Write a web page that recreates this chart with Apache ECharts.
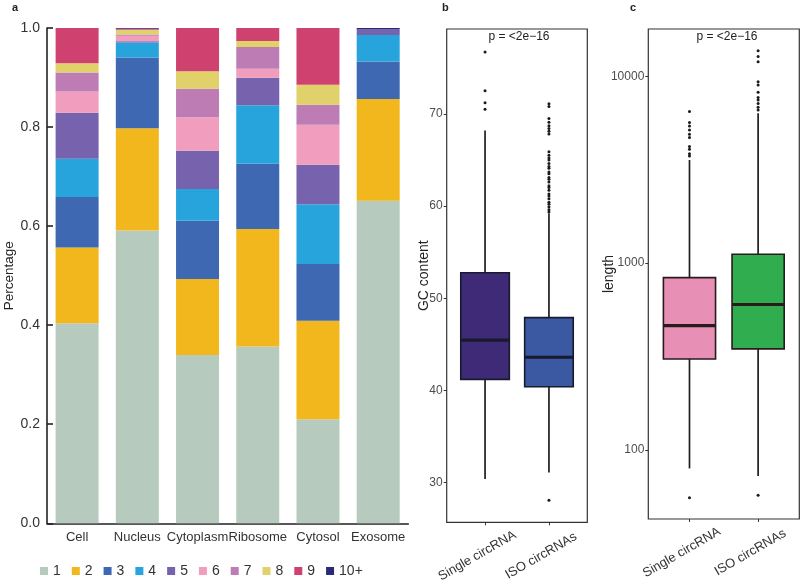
<!DOCTYPE html>
<html>
<head>
<meta charset="utf-8">
<script src="https://cdn.jsdelivr.net/npm/echarts@6/dist/echarts.min.js"></script>
<style>html,body{margin:0;padding:0;background:#fff}#c{width:800px;height:587px}</style>
</head>
<body>
<div id="c"></div>
<script>
// ---------- Panel a: stacked composition ----------
const categories = ['Cell', 'Nucleus', 'Cytoplasm', 'Ribosome', 'Cytosol', 'Exosome'];
const classNames = ['1', '2', '3', '4', '5', '6', '7', '8', '9', '10+'];
const class1  = [0.404, 0.591, 0.340, 0.357, 0.210, 0.651];
const class2  = [0.153, 0.2065, 0.153, 0.237, 0.1987, 0.2056];
const class3  = [0.102, 0.143, 0.118, 0.132, 0.115, 0.076];
const class4  = [0.077, 0.0303, 0.064, 0.118, 0.1206, 0.0534];
const class5  = [0.093, 0.0027, 0.0774, 0.0556, 0.0794, 0.011];
const class6  = [0.043, 0.0108, 0.0673, 0.018, 0.0808, 0];
const class7  = [0.038, 0.0027, 0.0574, 0.044, 0.0404, 0];
const class8  = [0.019, 0.0094, 0.0355, 0.012, 0.0405, 0];
const class9  = [0.0715, 0.002, 0.0877, 0.027, 0.1145, 0];
const class10 = [0, 0.002, 0, 0, 0, 0.003];

// ---------- Panel b: GC content ----------
const groups = ['Single circRNA', 'ISO circRNAs'];
// [lower whisker, Q1, median, Q3, upper whisker]
const gcSingle = [30.4, 41.2, 45.45, 52.77, 68.2];
const gcIso    = [31.1, 40.4, 43.6, 47.9, 59.2];
const gcSingleOutliers = [76.7, 72.5, 71.2, 70.5];
const gcIsoOutliers = [28.1, 71.1, 70.8, 69.5, 69.1, 68.7, 68.4, 68.1, 67.8, 65.9, 65.5, 65.2, 65.0, 64.6, 64.3, 64.1,
  63.7, 63.5, 63.1, 62.9, 62.6, 62.2, 62.0, 61.7, 61.3, 61.1, 60.8, 60.4, 60.2, 59.9, 59.6, 59.35];
const gcTicks = [30, 40, 50, 60, 70];

// ---------- Panel c: length ----------
const lenSingle = [79.8, 307, 463, 837, 3565];
const lenIso    = [72.6, 348, 601, 1117, 6340];
const lenSingleOutliers = [55.6, 3750, 3845, 4075, 4205, 4700, 4900, 5160, 5420, 5650, 6470];
const lenIsoOutliers = [57.4, 6600, 6820, 7160, 7460, 7710, 8200, 8980, 9360, 11970, 12740, 13700];
const lenTicks = [100, 1000, 10000];

const classColors = ['#b6cbbd', '#f1b71c', '#3e68b1', '#28a4dd', '#7762ad', '#f19dbd', '#bd7cb4', '#e0d16a', '#cf4270', '#2b2a7a'];
const FONT = "'Liberation Sans', Arial, sans-serif";
const classData = [class1, class2, class3, class4, class5, class6, class7, class8, class9, class10];

const BOX_W = 0.76;
function boxRenderer(fills, stroke) {
  return function (params, api) {
    const x = api.value(0);
    const lo = api.value(1), q1 = api.value(2), med = api.value(3), q3 = api.value(4), hi = api.value(5);
    const tl = api.coord([x - BOX_W / 2, q3]);
    const br = api.coord([x + BOX_W / 2, q1]);
    const m1 = api.coord([x - BOX_W / 2, med]);
    const m2 = api.coord([x + BOX_W / 2, med]);
    const pLo = api.coord([x, lo]), pQ1 = api.coord([x, q1]), pQ3 = api.coord([x, q3]), pHi = api.coord([x, hi]);
    return {
      type: 'group',
      children: [
        { type: 'line', shape: { x1: pHi[0], y1: pHi[1], x2: pQ3[0], y2: pQ3[1] }, style: { stroke: '#1e1e1e', lineWidth: 1.7 } },
        { type: 'line', shape: { x1: pLo[0], y1: pLo[1], x2: pQ1[0], y2: pQ1[1] }, style: { stroke: '#1e1e1e', lineWidth: 1.7 } },
        { type: 'rect', shape: { x: tl[0], y: tl[1], width: br[0] - tl[0], height: br[1] - tl[1] },
          style: { fill: fills[params.dataIndex], stroke: stroke, lineWidth: 1.6 } },
        { type: 'line', shape: { x1: m1[0], y1: m1[1], x2: m2[0], y2: m2[1] }, style: { stroke: stroke, lineWidth: 3.2 } }
      ]
    };
  };
}
function boxData(a, b) { return [[1].concat(a), [2].concat(b)]; }
function outlierData(a, b) { return a.map(v => [1, v]).concat(b.map(v => [2, v])); }

const chart = echarts.init(document.getElementById('c'), null, { renderer: 'canvas' });

const barSeries = classNames.map((name, i) => ({
  name: name, type: 'bar', stack: 'total', xAxisIndex: 0, yAxisIndex: 0,
  barWidth: 43, data: classData[i], itemStyle: { color: classColors[i] }
}));

const smallAxisLabel = { color: '#4d4d4d', fontSize: 12, fontFamily: FONT };

const option = {
  animation: false,
  textStyle: { fontFamily: FONT },
  grid: [
    { left: 47, top: 28, width: 361.3, height: 495.3 },
    { left: 446.7, top: 29, width: 140.6, height: 493.3, show: true, borderColor: '#333', borderWidth: 1.2, backgroundColor: 'transparent' },
    { left: 648.3, top: 29, width: 151, height: 490, show: true, borderColor: '#333', borderWidth: 1.2, backgroundColor: 'transparent' }
  ],
  legend: {
    data: classNames, left: 35, top: 559, icon: 'rect', itemWidth: 8, itemHeight: 8, itemGap: 11,
    textStyle: { fontSize: 14, color: '#333', fontFamily: FONT }
  },
  xAxis: [
    { gridIndex: 0, type: 'category', data: categories, boundaryGap: true,
      axisLine: { lineStyle: { color: '#222', width: 1.6 } },
      axisTick: { inside: true, length: 12, lineStyle: { color: '#222', width: 1.6 } },
      axisLabel: { fontSize: 13, color: '#333', margin: 8, interval: 0, fontFamily: FONT } },
    { gridIndex: 1, type: 'value', min: 0.4, max: 2.6, splitLine: { show: false },
      axisLine: { show: false },
      axisTick: { length: 3, customValues: [1, 2], lineStyle: { color: '#333' } },
      axisLabel: { customValues: [1, 2], formatter: v => groups[Math.round(v) - 1], rotate: 30, align: 'center', verticalAlign: 'middle',
        margin: 29, padding: [0, 18, 0, 0], fontSize: 13, color: '#333', fontFamily: FONT } },
    { gridIndex: 2, type: 'value', min: 0.4, max: 2.6, splitLine: { show: false },
      axisLine: { show: false },
      axisTick: { length: 3, customValues: [1, 2], lineStyle: { color: '#333' } },
      axisLabel: { customValues: [1, 2], formatter: v => groups[Math.round(v) - 1], rotate: 30, align: 'center', verticalAlign: 'middle',
        margin: 29, padding: [0, 18, 0, 0], fontSize: 13, color: '#333', fontFamily: FONT } }
  ],
  yAxis: [
    { gridIndex: 0, type: 'value', min: 0, max: 1, interval: 0.2,
      name: 'Percentage', nameLocation: 'middle', nameGap: 31, nameRotate: 90, nameMoveOverlap: false,
      nameTextStyle: { fontSize: 13.5, color: '#222', fontFamily: FONT },
      splitLine: { show: false },
      axisLine: { show: true, lineStyle: { color: '#222', width: 1.6 } },
      axisTick: { show: true, inside: true, length: 6, lineStyle: { color: '#222', width: 1.6 } },
      axisLabel: { formatter: v => v.toFixed(1), fontSize: 14, color: '#333', margin: 7, fontFamily: FONT } },
    { gridIndex: 1, type: 'value', min: 25.7, max: 79.2,
      name: 'GC content', nameLocation: 'middle', nameGap: 16, nameRotate: 90, nameMoveOverlap: false,
      nameTextStyle: { fontSize: 14, color: '#222', fontFamily: FONT },
      splitLine: { show: false }, axisLine: { show: false },
      axisTick: { show: true, length: 3, customValues: gcTicks, lineStyle: { color: '#333' } },
      axisLabel: Object.assign({ customValues: gcTicks, margin: 4 }, smallAxisLabel) },
    { gridIndex: 2, type: 'log', logBase: 10, min: 42.8, max: 17900,
      name: 'length', nameLocation: 'middle', nameGap: 32, nameRotate: 90, nameMoveOverlap: false,
      nameTextStyle: { fontSize: 14, color: '#222', fontFamily: FONT },
      splitLine: { show: false }, minorSplitLine: { show: false }, axisLine: { show: false },
      axisTick: { show: true, length: 3, customValues: lenTicks, lineStyle: { color: '#333' } },
      axisLabel: Object.assign({ customValues: lenTicks, margin: 4, formatter: v => String(Math.round(v)) }, smallAxisLabel) }
  ],
  series: barSeries.concat([
    { type: 'custom', xAxisIndex: 1, yAxisIndex: 1, data: boxData(gcSingle, gcIso),
      encode: { x: 0, y: [1, 2, 3, 4, 5] },
      renderItem: boxRenderer(['#3f2a78', '#3b58a3'], '#1a1a2e'), z: 2 },
    { type: 'scatter', xAxisIndex: 1, yAxisIndex: 1, data: outlierData(gcSingleOutliers, gcIsoOutliers),
      symbolSize: 3, itemStyle: { color: '#1a1a1a', opacity: 1 }, z: 3 },
    { type: 'custom', xAxisIndex: 2, yAxisIndex: 2, data: boxData(lenSingle, lenIso),
      encode: { x: 0, y: [1, 2, 3, 4, 5] },
      renderItem: boxRenderer(['#e88fb5', '#30ad4f'], '#2a1a1e'), z: 2 },
    { type: 'scatter', xAxisIndex: 2, yAxisIndex: 2, data: outlierData(lenSingleOutliers, lenIsoOutliers),
      symbolSize: 3, itemStyle: { color: '#1a1a1a', opacity: 1 }, z: 3 }
  ]),
  graphic: [
    { type: 'text', left: 12, top: 2, style: { text: 'a', font: "bold 11px " + FONT, fill: '#222' } },
    { type: 'text', left: 442, top: 2, style: { text: 'b', font: "bold 11px " + FONT, fill: '#222' } },
    { type: 'text', left: 630, top: 2, style: { text: 'c', font: "bold 11px " + FONT, fill: '#222' } },
    { type: 'text', x: 519, y: 37, style: { text: 'p = <2e\u221216', font: "12px " + FONT, fill: '#222', align: 'center', verticalAlign: 'middle' } },
    { type: 'text', x: 727, y: 37, style: { text: 'p = <2e\u221216', font: "12px " + FONT, fill: '#222', align: 'center', verticalAlign: 'middle' } }
  ]
};
chart.setOption(option);
</script>
</body>
</html>
